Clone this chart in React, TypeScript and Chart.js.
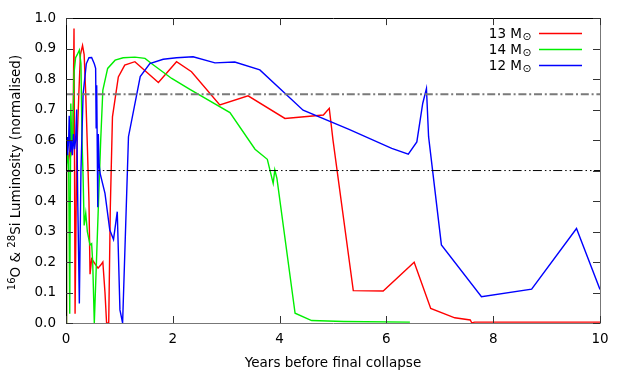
import React, { useEffect, useRef } from 'react';
import { Chart, registerables } from 'chart.js';

Chart.register(...registerables);

// ---- data (years before final collapse, normalised luminosity) ----
const years13 = [0, 0.01, 0.03, 0.05, 0.08, 0.10, 0.13, 0.15, 0.17, 0.20, 0.24, 0.27, 0.31, 0.34, 0.37, 0.40, 0.43, 0.45, 0.48, 0.52, 0.56, 0.60, 0.65, 0.69, 0.73, 0.76, 0.80, 0.83, 0.87, 0.98, 1.10, 1.29, 1.73, 2.07, 2.35, 2.88, 3.41, 4.10, 4.82, 4.93, 4.96, 5.00, 5.38, 5.94, 6.52, 6.83, 7.28, 7.57, 7.60, 7.65, 10];
const lum13 = [0, 0.52, 0.55, 0.53, 0.58, 0.56, 0.60, 0.966, 0.03, 0.55, 0.75, 0.88, 0.91, 0.88, 0.75, 0.58, 0.40, 0.16, 0.21, 0.20, 0.19, 0.18, 0.19, 0.20, 0.10, 0.0, 0.0, 0.38, 0.676, 0.807, 0.846, 0.857, 0.789, 0.857, 0.824, 0.715, 0.745, 0.671, 0.682, 0.704, 0.66, 0.60, 0.106, 0.105, 0.199, 0.048, 0.017, 0.01, 0.0, 0.003, 0.003];

const years14 = [0, 0.01, 0.03, 0.05, 0.07, 0.09, 0.11, 0.13, 0.15, 0.18, 0.21, 0.25, 0.28, 0.30, 0.32, 0.34, 0.37, 0.40, 0.45, 0.48, 0.50, 0.53, 0.57, 0.61, 0.65, 0.69, 0.78, 0.92, 1.07, 1.29, 1.48, 1.60, 1.98, 2.32, 3.07, 3.54, 3.77, 3.88, 3.91, 3.95, 4.29, 4.60, 5.20, 6.44];
const lum14 = [0, 0.50, 0.56, 0.52, 0.03, 0.72, 0.58, 0.62, 0.82, 0.87, 0.88, 0.895, 0.85, 0.60, 0.48, 0.32, 0.36, 0.30, 0.256, 0.26, 0.20, 0.0, 0.20, 0.403, 0.60, 0.764, 0.835, 0.862, 0.87, 0.872, 0.868, 0.851, 0.802, 0.766, 0.69, 0.57, 0.537, 0.458, 0.502, 0.474, 0.032, 0.008, 0.005, 0.003];

const years12 = [0, 0.005, 0.02, 0.03, 0.05, 0.06, 0.08, 0.10, 0.12, 0.14, 0.16, 0.18, 0.20, 0.22, 0.25, 0.28, 0.32, 0.38, 0.43, 0.48, 0.53, 0.555, 0.565, 0.575, 0.595, 0.605, 0.62, 0.64, 0.73, 0.82, 0.89, 0.96, 1.01, 1.06, 1.17, 1.39, 1.57, 1.82, 2.07, 2.38, 2.79, 3.16, 3.63, 4.44, 5.30, 6.10, 6.41, 6.57, 6.68, 6.75, 6.79, 7.03, 7.78, 8.72, 9.56, 10];
const lum12 = [0, 0.58, 0.61, 0.55, 0.60, 0.68, 0.56, 0.60, 0.55, 0.62, 0.57, 0.60, 0.70, 0.40, 0.064, 0.50, 0.75, 0.85, 0.87, 0.871, 0.85, 0.835, 0.64, 0.78, 0.38, 0.62, 0.52, 0.49, 0.425, 0.305, 0.274, 0.365, 0.043, 0.0, 0.611, 0.808, 0.851, 0.865, 0.87, 0.873, 0.853, 0.856, 0.83, 0.698, 0.635, 0.573, 0.554, 0.594, 0.72, 0.769, 0.611, 0.256, 0.086, 0.111, 0.31, 0.11];

const seriesMasses = ['13', '14', '12'];
const seriesColors = ['#ff0000', '#00ee00', '#0000ff'];
const refLevels = [0.75, 0.5];
const xMin = 0;
const xMax = 10;
const xStep = 2;
const yMin = 0;
const yMax = 1;
const yStep = 0.1;
const xTitle = 'Years before final collapse';

const FONT = '"DejaVu Sans", sans-serif';
const FS = 13.5;

const toPts = (xs: number[], ys: number[]) => xs.map((x, i) => ({ x, y: ys[i] }));

const framePlugin = {
  id: 'frame',
  afterDraw(chart: any) {
    const { ctx, chartArea: a, scales } = chart;
    const xs = scales.x;
    const ys = scales.y;
    ctx.save();
    // border
    ctx.lineWidth = 1;
    ctx.strokeStyle = '#000';
    ctx.beginPath();
    ctx.moveTo(Math.round(a.left) + 0.5, Math.round(a.bottom) + 0.5);
    ctx.lineTo(Math.round(a.left) + 0.5, Math.round(a.top) + 0.5);
    ctx.lineTo(Math.round(a.right) + 0.5, Math.round(a.top) + 0.5);
    ctx.stroke();
    ctx.strokeStyle = '#777';
    ctx.beginPath();
    ctx.moveTo(Math.round(a.right) + 0.5, Math.round(a.top) + 0.5);
    ctx.lineTo(Math.round(a.right) + 0.5, Math.round(a.bottom) + 0.5);
    ctx.lineTo(Math.round(a.left) + 0.5, Math.round(a.bottom) + 0.5);
    ctx.stroke();
    // inward ticks
    const TL = 7;
    ctx.strokeStyle = '#333';
    ctx.beginPath();
    ys.ticks.forEach((t: any) => {
      const py = Math.round(ys.getPixelForValue(t.value)) + 0.5;
      ctx.moveTo(a.left, py);
      ctx.lineTo(a.left + TL, py);
      ctx.moveTo(a.right, py);
      ctx.lineTo(a.right - TL, py);
    });
    xs.ticks.forEach((t: any) => {
      const px = Math.round(xs.getPixelForValue(t.value)) + 0.5;
      ctx.moveTo(px, a.bottom);
      ctx.lineTo(px, a.bottom - TL);
      ctx.moveTo(px, a.top);
      ctx.lineTo(px, a.top + TL);
    });
    ctx.stroke();

    // y title with superscripts
    ctx.fillStyle = '#000';
    ctx.translate(20, (a.top + a.bottom) / 2 + 2);
    ctx.rotate(-Math.PI / 2);
    const parts = [
      { t: '16', sup: true },
      { t: 'O & ', sup: false },
      { t: '28', sup: true },
      { t: 'Si Luminosity (normalised)', sup: false },
    ];
    const mainFont = `${FS}px ${FONT}`;
    const supFont = `${FS * 0.75}px ${FONT}`;
    let total = 0;
    parts.forEach((p) => {
      ctx.font = p.sup ? supFont : mainFont;
      total += ctx.measureText(p.t).width;
    });
    let cx = -total / 2;
    ctx.textAlign = 'left';
    ctx.textBaseline = 'alphabetic';
    parts.forEach((p) => {
      ctx.font = p.sup ? supFont : mainFont;
      ctx.fillText(p.t, cx, p.sup ? -5.5 : 0);
      cx += ctx.measureText(p.t).width;
    });
    ctx.restore();

    // legend (gnuplot style: text right-aligned, sample line to the right)
    ctx.save();
    seriesMasses.forEach((m, i) => {
      const rowY = 33 + 16 * i;
      ctx.fillStyle = '#000';
      ctx.textBaseline = 'alphabetic';
      ctx.font = `${FS * 0.8}px ${FONT}`;
      const sw = ctx.measureText('\u2299').width;
      const textRight = 531 - sw;
      ctx.textAlign = 'left';
      ctx.fillText('\u2299', textRight + 0.5, rowY + 7);
      ctx.font = `${FS}px ${FONT}`;
      ctx.textAlign = 'right';
      ctx.fillText(`${m} M`, textRight, rowY + 5);
      ctx.strokeStyle = seriesColors[i];
      ctx.lineWidth = 1.4;
      ctx.beginPath();
      ctx.moveTo(539, rowY + 0.5);
      ctx.lineTo(582, rowY + 0.5);
      ctx.stroke();
    });
    ctx.restore();
  },
};

export default function App() {
  const ref = useRef<HTMLCanvasElement>(null);
  useEffect(() => {
    if (!ref.current) return;
    const seriesData = [toPts(years13, lum13), toPts(years14, lum14), toPts(years12, lum12)];
    const datasets: any[] = seriesMasses.map((m, i) => ({
      label: `${m} M\u2299`,
      data: seriesData[i],
      borderColor: seriesColors[i],
      borderWidth: 1.4,
      pointRadius: 0,
      tension: 0,
      fill: false,
      order: 3 - i,
    }));
    refLevels.forEach((lv, i) => {
      datasets.push({
        label: `ref${i}`,
        data: [
          { x: xMin, y: lv },
          { x: xMax, y: lv },
        ],
        borderColor: i === 0 ? '#7a7a7a' : '#000000',
        borderWidth: i === 0 ? 2 : 1,
        borderDash: i === 0 ? [8, 2.8, 2, 2.8] : [9, 3, 1.5, 3, 1.5, 2.3],
        pointRadius: 0,
        fill: false,
        order: 0,
      });
    });
    const chart = new Chart(ref.current, {
      type: 'line',
      data: { datasets },
      plugins: [framePlugin],
      options: {
        animation: false,
        responsive: false,
        devicePixelRatio: 1,
        layout: { padding: { left: 0, right: 25, top: 18, bottom: 0 } },
        plugins: {
          legend: { display: false },
          tooltip: { enabled: false },
        },
        scales: {
          x: {
            type: 'linear',
            min: xMin,
            max: xMax,
            grid: { display: false, drawTicks: false },
            border: { display: false },
            ticks: {
              stepSize: xStep,
              color: '#000',
              font: { family: FONT, size: FS },
              padding: 8,
              maxRotation: 0,
              autoSkip: false,
            },
            title: {
              display: true,
              text: xTitle,
              color: '#000',
              font: { family: FONT, size: FS },
              padding: { top: 0, bottom: 3 },
            },
            afterFit: (s: any) => {
              s.height = 52;
            },
          },
          y: {
            type: 'linear',
            min: yMin,
            max: yMax,
            grid: { display: false, drawTicks: false },
            border: { display: false },
            ticks: {
              stepSize: yStep,
              color: '#000',
              font: { family: FONT, size: FS },
              padding: 10,
              callback: (v: any) => Number(v).toFixed(1),
            },
            afterFit: (s: any) => {
              s.width = 66;
            },
          },
        },
      },
    });
    return () => chart.destroy();
  }, []);
  return (
    <div style={{ position: 'absolute', left: 0, top: 0, width: 625, height: 375, background: '#fff' }}>
      <canvas ref={ref} width={625} height={375} style={{ display: 'block' }} />
    </div>
  );
}
